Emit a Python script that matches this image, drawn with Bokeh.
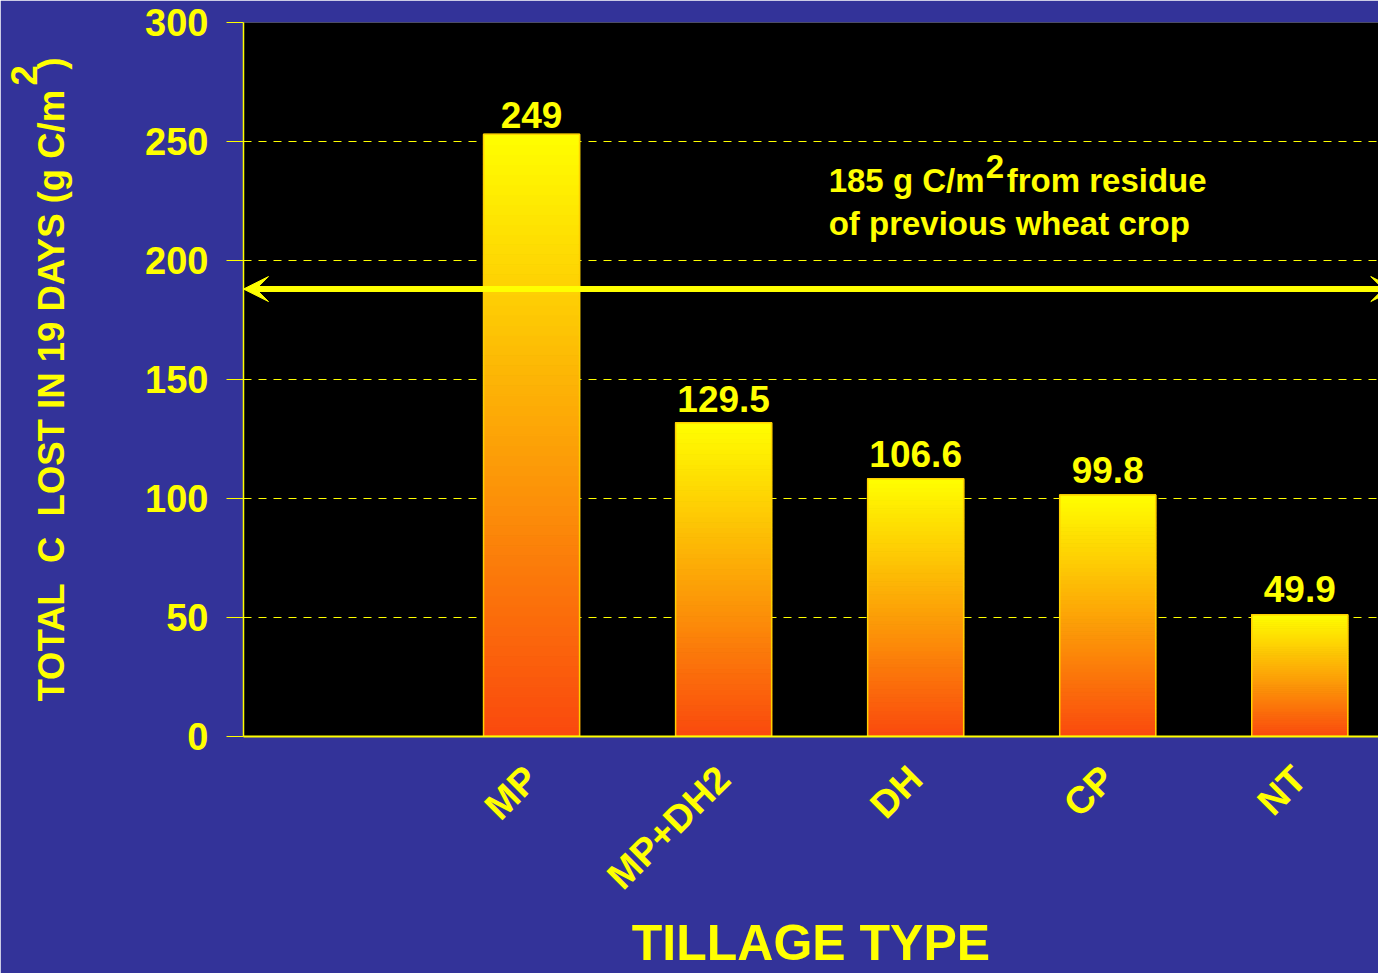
import math
from bokeh.plotting import figure
from bokeh.models import Range1d, FixedTicker, Label, Arrow, VeeHead
from bokeh.core.properties import value
from bokeh.embed import file_html
from bokeh.resources import INLINE

# ---- data ----
categories = ["MP", "MP+DH2", "DH", "CP", "NT"]
bar_tops = [253.0, 131.8, 108.3, 101.5, 51.2]
label_values = [249.0, 129.5, 106.6, 99.8, 49.9]
value_labels = ["249", "129.5", "106.6", "99.8", "49.9"]
residue_level = 188.0
y_ticks = [0, 50, 100, 150, 200, 250, 300]

FONT = "Liberation Sans"
YEL = "#FFFF00"
BG = "#333399"

# category slots: slot 1 is empty, bars occupy slots 2..6
xs = [i + 2 for i in range(len(categories))]

p = figure(width=1378, height=973,
           x_range=Range1d(0.5, 6.41), y_range=Range1d(0, 300),
           output_backend="svg", toolbar_location=None,
           min_border_left=243, min_border_right=0,
           min_border_top=22, min_border_bottom=236)

p.background_fill_color = "black"
p.border_fill_color = BG
p.outline_line_color = None

# ---- gradient bars (yellow top -> orange-red bottom) ----
N = 60
top_rgb = (255, 255, 0)
bot_rgb = (250, 72, 14)
L, R, B, T, C = [], [], [], [], []
for xi, h in zip(xs, bar_tops):
    for k in range(N):
        t = (k + 0.5) / N
        col = tuple(int(round(bot_rgb[j] + (top_rgb[j] - bot_rgb[j]) * t)) for j in range(3))
        L.append(xi - 0.25); R.append(xi + 0.25)
        B.append(h * k / N); T.append(h * (k + 1) / N)
        C.append("#%02x%02x%02x" % col)
p.quad(left=L, right=R, bottom=B, top=T, fill_color=C, line_color=C, line_width=1.2)
p.quad(left=[x - 0.25 for x in xs], right=[x + 0.25 for x in xs],
       bottom=[0] * len(xs), top=bar_tops,
       fill_color=None, line_color="#FFD000", line_width=1.5)

# ---- value labels ----
p.text(x=xs, y=label_values, text=value_labels, text_align="center",
       text_baseline="alphabetic", y_offset=-29,
       text_font=value(FONT), text_font_style="bold", text_font_size="37px",
       text_color=YEL)

# ---- residue arrow ----
head = dict(size=25, fill_color=YEL, line_color=YEL, line_width=1)
p.add_layout(Arrow(start=VeeHead(**head), end=VeeHead(**head),
                   x_start=0.5, y_start=residue_level, x_end=6.5, y_end=residue_level,
                   line_color=YEL, line_width=6))

txt = dict(text_font=FONT, text_font_style="bold", text_font_size="33px",
           text_color=YEL, text_baseline="alphabetic")
p.add_layout(Label(x=3.547, y=233.7, text="185 g C/m", **txt))
p.add_layout(Label(x=4.365, y=239.6, text="2", **txt))
p.add_layout(Label(x=4.474, y=233.7, text="from residue", **txt))
p.add_layout(Label(x=3.547, y=215.7, text="of previous wheat crop", **txt))

# ---- axes ----
p.xgrid.visible = False
p.ygrid.grid_line_color = YEL
p.ygrid.grid_line_dash = "8 7"
p.ygrid.grid_line_width = 1
p.ygrid.ticker = FixedTicker(ticks=y_ticks)

NB = "\u00a0"
y_title_main = "TOTAL" + NB + " C" + NB + " LOST IN 19 DAYS (g C/m" + NB + NB + ")"
y_title_sup = NB * 61 + "2" + NB
p.yaxis.ticker = FixedTicker(ticks=y_ticks)
p.yaxis.axis_line_color = YEL
p.yaxis.axis_line_width = 1.5
p.yaxis.major_tick_line_color = YEL
p.yaxis.major_tick_out = 17
p.yaxis.major_tick_in = 0
p.yaxis.minor_tick_line_color = None
p.yaxis.major_label_standoff = 18
p.yaxis.major_label_text_font = FONT
p.yaxis.major_label_text_font_style = "bold"
p.yaxis.major_label_text_font_size = "38px"
p.yaxis.major_label_text_color = YEL
p.yaxis.axis_label = y_title_sup + "\n" + y_title_main
p.yaxis.axis_label_text_font = FONT
p.yaxis.axis_label_text_font_style = "bold"
p.yaxis.axis_label_text_font_size = "36.5px"
p.yaxis.axis_label_text_line_height = 0.67
p.yaxis.axis_label_text_color = YEL
p.yaxis.axis_label_standoff = 70

p.xaxis.ticker = FixedTicker(ticks=xs)
p.xaxis.major_label_overrides = {x: c for x, c in zip(xs, categories)}
p.xaxis.major_label_orientation = math.pi / 4
p.xaxis.axis_line_color = YEL
p.xaxis.axis_line_width = 2
p.xaxis.major_tick_line_color = None
p.xaxis.minor_tick_line_color = None
p.xaxis.major_label_standoff = 30
p.xaxis.major_label_text_font = FONT
p.xaxis.major_label_text_font_style = "bold"
p.xaxis.major_label_text_font_size = "38px"
p.xaxis.major_label_text_color = YEL
p.xaxis.axis_label = "TILLAGE TYPE"
p.xaxis.axis_label_text_font = FONT
p.xaxis.axis_label_text_font_style = "bold"
p.xaxis.axis_label_text_font_size = "50px"
p.xaxis.axis_label_text_color = YEL
p.xaxis.axis_label_standoff = 0

open("out.html", "w").write(file_html(p, INLINE))
